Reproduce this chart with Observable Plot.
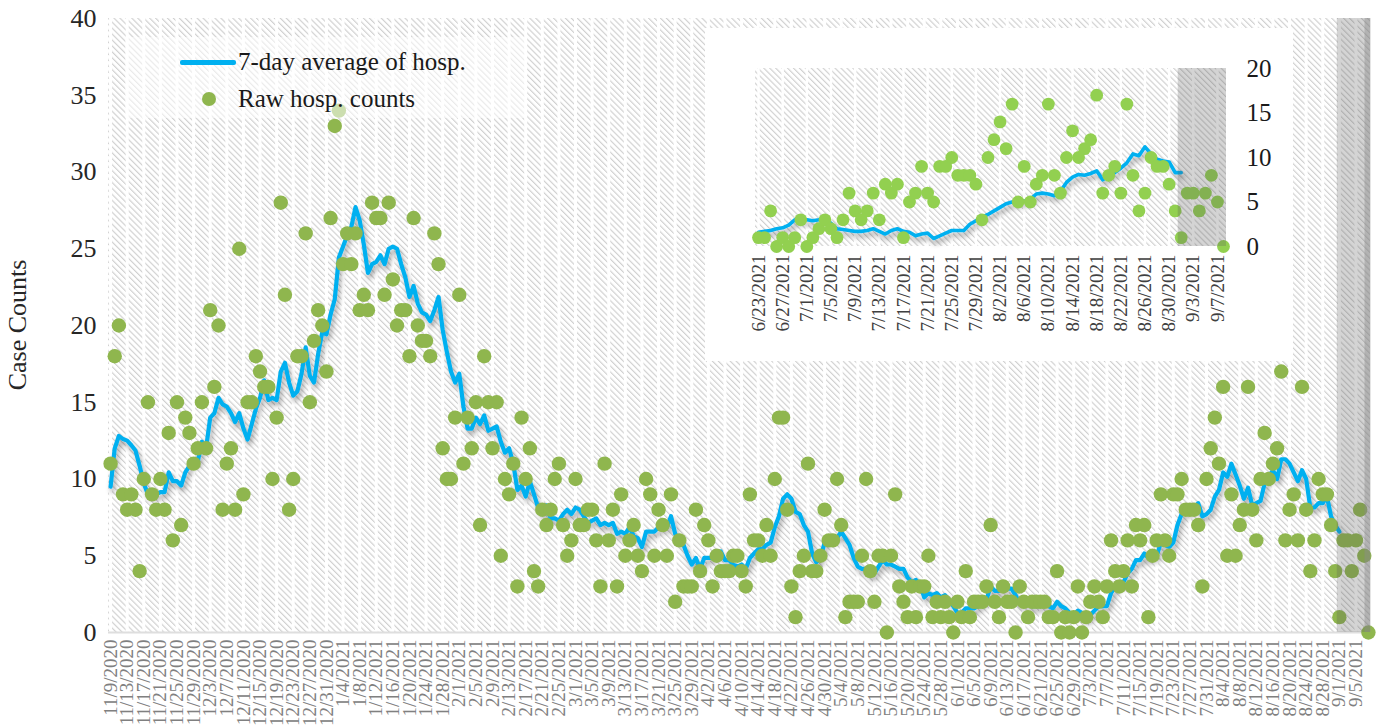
<!DOCTYPE html>
<html><head><meta charset="utf-8">
<script src="https://cdn.jsdelivr.net/npm/d3@7"></script>
<script src="https://cdn.jsdelivr.net/npm/@observablehq/plot@0.6"></script>
<style>
html,body{margin:0;padding:0;background:#fff;}
#wrap{position:relative;width:1379px;height:728px;overflow:hidden;font-family:"Liberation Serif",serif;color:#1a1a1a;}
#wrap svg{position:absolute;left:0;top:0;}
.abs{position:absolute;white-space:nowrap;}
</style></head><body><div id="wrap"></div>
<script>
// ---------- data ----------
const startDate = "2020-11-09";          // first day of the main series
const incompleteFrom = "2021-09-01";     // grey shaded "incomplete data" period starts
const avgEndDate = "2021-09-01";         // last day of the 7-day average line
const rawCounts = [
 11,18,20,9,8,9,8,4,10,15,
 9,8,10,8,13,6,15,7,14,13,
 11,12,15,12,21,16,20,8,11,12,
 8,25,9,15,15,18,17,16,16,10,
 14,28,22,8,10,18,18,26,15,19,
 21,20,17,27,33,34,24,26,24,26,
 21,22,21,28,27,27,22,28,23,20,
 21,21,18,27,20,19,19,18,26,24,
 12,10,10,14,22,11,14,12,15,7,
 18,15,12,15,5,10,9,11,3,14,
 10,12,4,3,8,7,8,10,11,7,
 5,6,10,7,7,8,8,6,3,11,
 6,8,3,9,5,6,7,5,4,10,
 9,5,8,7,5,9,2,6,3,3,
 3,8,4,7,6,3,5,4,4,4,
 5,5,4,3,9,6,6,5,7,5,
 10,14,14,8,3,1,4,5,11,4,
 4,5,8,6,6,10,7,1,2,2,
 2,5,10,4,2,5,5,0,5,9,
 3,2,1,3,1,3,3,5,1,2,
 1,2,1,0,2,1,4,1,2,2,
 2,3,7,2,1,3,2,2,0,3,
 2,1,2,2,2,2,1,1,4,0,
 1,0,1,3,0,1,2,3,2,1,
 3,6,4,3,4,6,3,7,6,7,
 1,5,6,9,6,5,9,9,10,8,
 8,8,7,3,10,12,14,11,16,5,
 9,5,7,8,16,8,6,10,13,10,
 11,12,17,6,8,9,6,16,8,4,
 6,10,9,9,7,4,1,6,6,4,
 6,8,5,0
];
// first six points of the average line (their windows reach before 11/9/2020)
const avgHead = [9.5, 12.0, 12.8, 12.6, 12.5, 12.2];

// inset: 7-day average line as drawn in the inset (6/23/2021 – 9/1/2021)
const insetStart = "2021-06-23";
const insetAvg = [
 1.6,1.7,1.8,2.0,2.1,2.4,3.0,3.0,
 3.0,2.9,3.0,3.2,2.6,2.0,1.9,1.8,1.7,1.7,1.8,2.0,1.7,1.4,1.8,2.0,1.7,1.6,1.2,1.4,1.5,0.9,1.2,1.5,1.8,1.8,1.8,2.5,2.9,3.3,3.6,
 4.0,4.4,4.8,5.0,5.0,5.1,5.3,5.9,6.0,5.9,5.7,6.2,7.2,7.8,8.1,8.0,8.2,8.5,7.5,7.9,8.3,8.8,9.4,10.4,10.2,11.2,10.4,9.8,9.6,9.5,8.3,
 8.3
];

const mainTickLabels = ["11/9/2020","11/13/2020","11/17/2020","11/21/2020","11/25/2020","11/29/2020","12/3/2020","12/7/2020","12/11/2020","12/15/2020","12/19/2020","12/23/2020","12/27/2020","12/31/2020","1/4/2021","1/8/2021","1/12/2021","1/16/2021","1/20/2021","1/24/2021","1/28/2021","2/1/2021","2/5/2021","2/9/2021","2/13/2021","2/17/2021","2/21/2021","2/25/2021","3/1/2021","3/5/2021","3/9/2021","3/13/2021","3/17/2021","3/21/2021","3/25/2021","3/29/2021","4/2/2021","4/6/2021","4/10/2021","4/14/2021","4/18/2021","4/22/2021","4/26/2021","4/30/2021","5/4/2021","5/8/2021","5/12/2021","5/16/2021","5/20/2021","5/24/2021","5/28/2021","6/1/2021","6/5/2021","6/9/2021","6/13/2021","6/17/2021","6/21/2021","6/25/2021","6/29/2021","7/3/2021","7/7/2021","7/11/2021","7/15/2021","7/19/2021","7/23/2021","7/27/2021","7/31/2021","8/4/2021","8/8/2021","8/12/2021","8/16/2021","8/20/2021","8/24/2021","8/28/2021","9/1/2021","9/5/2021"];
const insetTickLabels = ["6/23/2021","6/27/2021","7/1/2021","7/5/2021","7/9/2021","7/13/2021","7/17/2021","7/21/2021","7/25/2021","7/29/2021","8/2/2021","8/6/2021","8/10/2021","8/14/2021","8/18/2021","8/22/2021","8/26/2021","8/30/2021","9/3/2021","9/7/2021"];
const yTicksMain = [0,5,10,15,20,25,30,35,40];
const yTicksInset = [0,5,10,15,20];

const legendLabels = ["7-day average of hosp.", "Raw hosp. counts"];
const yTitle = "Case Counts";

// ---------- build tables ----------
const parseMDY = s => { const [m,d,y] = s.split("/").map(Number); return new Date(Date.UTC(y, m-1, d)); };
const parseISO = d3.utcParse("%Y-%m-%d");
const start = parseISO(startDate);
const rawData = rawCounts.map((c, i) => ({date: d3.utcDay.offset(start, i), count: c}));
const endDate = rawData[rawData.length - 1].date;
const avgEndIdx = d3.utcDay.count(start, parseISO(avgEndDate));
const avgData = d3.range(avgEndIdx + 1).map(i => ({
  date: rawData[i].date,
  avg: i < avgHead.length ? avgHead[i] : d3.mean(rawCounts.slice(i - 6, i + 1))
}));
const iStart = parseISO(insetStart);
const insetAvgData = insetAvg.map((v, i) => ({date: d3.utcDay.offset(iStart, i), avg: v}));
const insetRaw = rawData.filter(d => d.date >= iStart);
const mainTicks = mainTickLabels.map(parseMDY);
const insetTicks = insetTickLabels.map(parseMDY);
const fmt = d3.utcFormat("%-m/%-d/%Y");
const half = d => d3.utcHour.offset(d, -12);
const halfAfter = d => d3.utcHour.offset(d, 12);
const greyStart = half(parseISO(incompleteFrom));

const FONT = '"Liberation Serif", "Times New Roman", serif';
const BLUE = "#00b0f0";

// ---------- main chart ----------
const mx0 = half(start), mx1 = halfAfter(endDate);
const main = Plot.plot({
  width: 1379, height: 728,
  marginLeft: 108, marginRight: 9, marginTop: 18, marginBottom: 96,
  style: {fontFamily: FONT, background: "transparent", overflow: "visible"},
  x: {type: "utc", domain: [mx0, mx1], label: null},
  y: {domain: [0, 40], label: null},
  marks: [
    Plot.rect([0], {x1: () => mx0, x2: () => mx1, y1: () => 0, y2: () => 40, fill: "#eeeeee"}),
    Plot.ruleX(mainTicks, {stroke: "#ffffff", strokeWidth: 3}),
    Plot.ruleY([0], {stroke: "#dedede", strokeWidth: 2}),
    Plot.line(avgData, {x: "date", y: "avg", stroke: BLUE, strokeWidth: 4.2, strokeLinejoin: "round"}),
    Plot.dot(rawData, {x: "date", y: "count", r: 7.2, fill: "#8fb64e"}),
    Plot.rect([0], {x1: () => greyStart, x2: () => mx1, y1: () => 0, y2: () => 40, fill: "#5a5a5a", fillOpacity: 0.26}),
    Plot.ruleX([mx1], {stroke: "#8c8c8c", strokeOpacity: 0.45, strokeWidth: 6, dx: -3}),
    Plot.axisY(yTicksMain, {tickSize: 0, tickPadding: 12, fontSize: 26, color: "#262626", label: null}),
    Plot.axisX(mainTicks, {tickSize: 0, tickPadding: 7, tickRotate: -90, fontSize: 19, color: "#808080", tickFormat: fmt, label: null})
  ]
});

// ---------- inset chart ----------
const ix0 = half(iStart), ix1 = halfAfter(endDate);
const inset = Plot.plot({
  width: 588, height: 333,
  marginLeft: 50, marginRight: 67, marginTop: 40, marginBottom: 115,
  style: {fontFamily: FONT, background: "#ffffff", overflow: "visible"},
  x: {type: "utc", domain: [ix0, ix1], label: null},
  y: {domain: [0, 20], label: null},
  marks: [
    Plot.rect([0], {x1: () => ix0, x2: () => ix1, y1: () => 0, y2: () => 20, fill: "#eeeeee"}),
    Plot.ruleX(insetTicks, {stroke: "#ffffff", strokeWidth: 2.5}),
    Plot.line(insetAvgData, {x: "date", y: "avg", stroke: BLUE, strokeWidth: 3.6, strokeLinejoin: "round"}),
    Plot.dot(insetRaw, {x: "date", y: "count", r: 6.4, fill: "#92d050"}),
    Plot.rect([0], {x1: () => greyStart, x2: () => ix1, y1: () => 0, y2: () => 20, fill: "#5a5a5a", fillOpacity: 0.26}),
    Plot.axisY(yTicksInset, {anchor: "right", tickSize: 0, tickPadding: 20, fontSize: 25, color: "#1a1a1a", label: null}),
    Plot.axisX(insetTicks, {tickSize: 0, tickPadding: 8, tickRotate: -90, fontSize: 19, color: "#404040", tickFormat: fmt, label: null})
  ]
});

// ---------- patterns & shadow ----------
const NS = "http://www.w3.org/2000/svg";
const defs = document.createElementNS(NS, "defs");
defs.innerHTML = `
  <pattern id="hatch" patternUnits="userSpaceOnUse" width="4.2" height="4.2" patternTransform="rotate(-45)">
    <rect width="4.2" height="4.2" fill="#ffffff"/>
    <rect width="1.15" height="4.2" fill="#d0d0d0"/>
  </pattern>
  <filter id="shadow" filterUnits="userSpaceOnUse" x="0" y="0" width="1400" height="760">
    <feGaussianBlur in="SourceAlpha" stdDeviation="2.5"/>
    <feOffset dx="2" dy="4" result="b"/>
    <feFlood flood-color="#000" flood-opacity="0.33"/>
    <feComposite in2="b" operator="in"/>
    <feMerge><feMergeNode/><feMergeNode in="SourceGraphic"/></feMerge>
  </filter>`;
main.insertBefore(defs, main.firstChild);
for (const svg of [main, inset]) {
  const bg = svg.querySelector('g[aria-label="rect"]');
  if (bg) { bg.setAttribute("fill", "url(#hatch)"); bg.querySelectorAll("rect").forEach(r => r.setAttribute("fill", "url(#hatch)")); }
  const l = svg.querySelector('g[aria-label="line"]');
  if (l) l.setAttribute("filter", "url(#shadow)");
}

const wrap = document.getElementById("wrap");
wrap.appendChild(main);
inset.style.left = "705px"; inset.style.top = "28px";
wrap.appendChild(inset);

// ---------- legend & y title (HTML text) ----------
const add = (html) => { const t = document.createElement("div"); t.innerHTML = html; const el = t.firstElementChild; wrap.appendChild(el); return el; };
add(`<div class="abs" style="left:125px;top:37px;width:400px;height:81px;background:rgba(255,255,255,0.55)"></div>`);
add(`<div class="abs" style="left:180px;top:60px;width:56px;height:4.5px;border-radius:2px;background:${BLUE}"></div>`);
add(`<div class="abs" style="left:202px;top:92px;width:14.4px;height:14.4px;border-radius:50%;background:#8fb64e"></div>`);
add(`<div class="abs" style="left:238px;top:47px;font-size:25px;line-height:30px">${legendLabels[0]}</div>`);
add(`<div class="abs" style="left:238px;top:84px;font-size:25px;line-height:30px">${legendLabels[1]}</div>`);
add(`<div class="abs" style="left:18px;top:325px;font-size:26px;line-height:30px;color:#262626;transform:translate(-50%,-50%) rotate(-90deg)">${yTitle}</div>`);
</script>
</body></html>
